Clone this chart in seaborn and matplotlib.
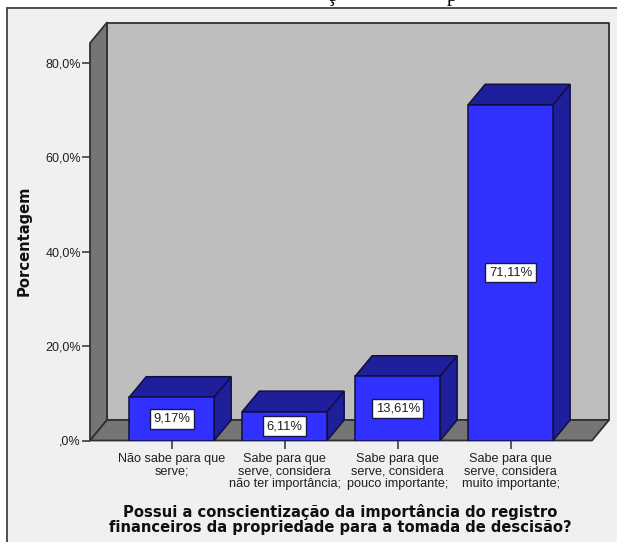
import matplotlib
matplotlib.use("Agg")
import matplotlib.pyplot as plt
from matplotlib.patches import Polygon, Rectangle
from matplotlib.lines import Line2D
import seaborn as sns
import pandas as pd

categories = ["Não sabe para que\nserve;",
              "Sabe para que\nserve, considera\nnão ter importância;",
              "Sabe para que\nserve, considera\npouco importante;",
              "Sabe para que\nserve, considera\nmuito importante;"]
percentages = [9.17, 6.11, 13.61, 71.11]
value_labels = ["9,17%", "6,11%", "13,61%", "71,11%"]
y_ticks = [0, 20, 40, 60, 80]
y_tick_labels = [",0%", "20,0%", "40,0%", "60,0%", "80,0%"]
x_title = "Possui a conscientização da importância do registro\nfinanceiros da propriedade para a tomada de descisão?"
y_title = "Porcentagem"

W, H = 617, 542
sns.set_theme(style="white")
plt.rcParams["font.family"] = ["Liberation Sans", "DejaVu Sans"]

fig = plt.figure(figsize=(W / 100, H / 100), dpi=100, facecolor="white")
# panel background and frame
fig.add_artist(Rectangle((7 / W, 0), 1, 1 - 7.5 / H, transform=fig.transFigure,
                         facecolor="#f0f0f0", edgecolor="none", zorder=-2))
fig.add_artist(Line2D([7 / W, 7 / W], [0, 1 - 7.5 / H], color="#404040", lw=1.3, zorder=-1))
fig.add_artist(Line2D([7 / W, 1], [1 - 7.5 / H, 1 - 7.5 / H], color="#404040", lw=1.3, zorder=-1))
# clipped remains of the title above the panel
fig.text(331 / W, 1 - 0.5 / H, "ç", family="Liberation Serif", fontsize=15, ha="center", va="baseline", color="black")
fig.text(452 / W, 1 - 1 / H, "p", family="Liberation Serif", fontsize=15, ha="center", va="baseline", color="black")

L, R, T, B = 90.0, 592.0, 43.0, 440.5
ax = fig.add_axes([L / W, 1 - B / H, (R - L) / W, (B - T) / H], zorder=1)
ax.patch.set_alpha(0)

df = pd.DataFrame({"cat": categories, "pct": percentages})
sns.barplot(data=df, x="cat", y="pct", ax=ax, color="#3030ff", saturation=1, width=0.752,
            edgecolor="#101040", linewidth=1.1, zorder=4)

xl, xr = -0.723, 3.72
yt = 84.2
ax.set_xlim(xl, xr)
ax.set_ylim(0, yt)
dx = 17.0 / (R - L) * (xr - xl)
dy = 20.5 / (B - T) * yt

wall = dict(edgecolor="#303030", linewidth=1.3, clip_on=False, joinstyle="round")
ax.add_patch(Polygon([(xl + dx, dy), (xr + dx, dy), (xr + dx, yt + dy), (xl + dx, yt + dy)],
                     facecolor="#bebebe", zorder=1, **wall))
ax.add_patch(Polygon([(xl, 0), (xl + dx, dy), (xl + dx, yt + dy), (xl, yt)],
                     facecolor="#757575", zorder=1.1, **wall))
ax.add_patch(Polygon([(xl, 0), (xr, 0), (xr + dx, dy), (xl + dx, dy)],
                     facecolor="#757575", zorder=1.2, **wall))

face3d = dict(facecolor="#1f1f9c", edgecolor="#101040", linewidth=1.1, clip_on=False, zorder=3)
for bar, lab in zip(list(ax.patches)[:len(percentages)], value_labels):
    x0, x1, h = bar.get_x(), bar.get_x() + bar.get_width(), bar.get_height()
    ax.add_patch(Polygon([(x0, h), (x1, h), (x1 + dx, h + dy), (x0 + dx, h + dy)], **face3d))
    ax.add_patch(Polygon([(x1, 0), (x1 + dx, dy), (x1 + dx, h + dy), (x1, h)], **face3d))
    ax.text((x0 + x1) / 2, h / 2, lab, ha="center", va="center", fontsize=9.4, color="#202020", zorder=6,
            bbox=dict(boxstyle="square,pad=0.28", facecolor="white", edgecolor="#181840", linewidth=1.0))

for s in ax.spines.values():
    s.set_visible(False)
ax.set_xticks(range(len(categories)))
ax.set_xticklabels(categories, fontsize=9.1, color="#202020", linespacing=1.05)
ax.set_yticks(y_ticks)
ax.set_yticklabels(y_tick_labels, fontsize=9.0, color="#202020")
ax.tick_params(axis="both", which="major", bottom=True, left=True, length=6, width=1.1, color="#303030", pad=0.5)
ax.tick_params(axis="x", pad=3)
ax.set_xlabel("")
ax.set_ylabel("")

fig.text(340 / W, 1 - 519.5 / H, x_title, ha="center", va="center", fontsize=10.6, fontweight="bold",
         family="DejaVu Sans", color="#101010", linespacing=1.0)
fig.text(24 / W, 1 - 241 / H, y_title, rotation=90, ha="center", va="center", fontsize=10.6,
         fontweight="bold", family="DejaVu Sans", color="#101010")

fig.savefig("out.png", dpi=100)
